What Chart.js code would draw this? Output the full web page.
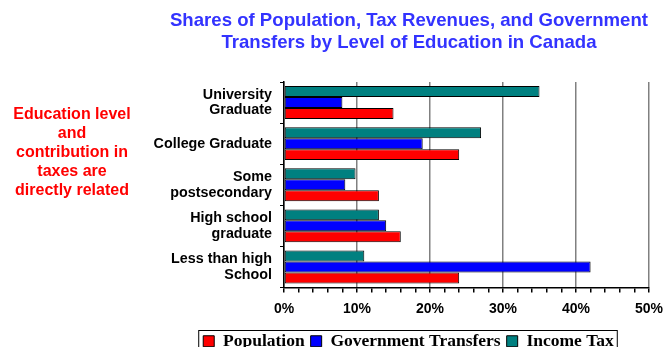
<!DOCTYPE html>
<html>
<head>
<meta charset="utf-8">
<script src="https://cdn.jsdelivr.net/npm/chart.js@4"></script>
<style>
    html, body { margin: 0; padding: 0; background: #fff; }
    #wrap { position: relative; width: 671px; height: 347px; overflow: hidden; }
    #title {
        position: absolute; left: 109px; top: 9px; width: 600px;
        text-align: center; color: #3333ff;
        font: bold 18.6px 'Liberation Sans', Arial, sans-serif; line-height: 22px;
    }
    #note {
        position: absolute; left: 0; top: 104px; width: 144px;
        text-align: center; color: #ff0000;
        font: bold 16px 'Liberation Sans', Arial, sans-serif; line-height: 19px;
    }
    canvas { position: absolute; left: 0; top: 0; }
</style>
</head>
<body>
<div id="wrap">
    <canvas id="eduChart" width="671" height="347"></canvas>
    <div id="title">Shares of Population, Tax Revenues, and Government<br>Transfers by Level of Education in Canada</div>
    <div id="note">Education level<br>and<br>contribution in<br>taxes are<br>directly related</div>
</div>
<script>
const categories = [
    ['University', 'Graduate'],
    'College Graduate',
    ['Some', 'postsecondary'],
    ['High school', 'graduate'],
    ['Less than high', 'School']
];
const incomeTax = [35, 27, 9.8, 13, 11];
const govTransfers = [8, 19, 8.4, 14, 42];
const population = [15, 24, 13, 16, 24];

const SANS = "'Liberation Sans', Arial, sans-serif";
const SERIF = "'Liberation Serif', 'Times New Roman', serif";

// move the legend under the plot and draw its frame
const LEGEND_BOX_PLUGIN = {
    id: 'legendBox',
    afterLayout(chart) {
        const lg = chart.legend;
        if (!lg) return;
        const dx = 83;
        const h = lg.bottom - lg.top;
        lg.left += dx;
        lg.right += dx;
        lg.top = 326.5;
        lg.bottom = lg.top + h;
    },
    afterDraw(chart) {
        const boxes = chart.legend && chart.legend.legendHitBoxes;
        if (!boxes || !boxes.length) return;
        const left = Math.min(...boxes.map(b => b.left)) - 5;
        const right = Math.max(...boxes.map(b => b.left + b.width)) + 3;
        const ctx = chart.ctx;
        ctx.save();
        ctx.strokeStyle = '#000';
        ctx.lineWidth = 1;
        ctx.strokeRect(left + 0.5, 330.5, right - left, 30);
        ctx.restore();
    }
};

new Chart(document.getElementById('eduChart'), {
    type: 'bar',
    plugins: [LEGEND_BOX_PLUGIN],
    data: {
        labels: categories,
        datasets: [
            { label: 'Income Tax', data: incomeTax, backgroundColor: '#008080' },
            { label: 'Government Transfers', data: govTransfers, backgroundColor: '#0000ff' },
            { label: 'Population', data: population, backgroundColor: '#ff0000' }
        ].map(d => Object.assign(d, {
            borderColor: '#000',
            borderWidth: 1,
            borderSkipped: false,
            categoryPercentage: 0.8,
            barPercentage: 1
        }))
    },
    options: {
        indexAxis: 'y',
        responsive: false,
        animation: false,
        layout: { padding: { top: 82, right: 20, left: 0, bottom: 0 } },
        plugins: {
            title: { display: false },
            tooltip: { enabled: false },
            legend: {
                position: 'bottom',
                reverse: true,
                labels: {
                    color: '#000',
                    boxWidth: 11,
                    boxHeight: 11,
                    padding: 6,
                    font: { family: SERIF, size: 17.5, weight: 'bold' }
                }
            }
        },
        scales: {
            x: {
                min: 0,
                max: 50,
                afterFit: s => { s.height = 26; },
                ticks: {
                    stepSize: 2,
                    autoSkip: false,
                    maxRotation: 0,
                    padding: 8,
                    color: '#000',
                    font: { family: SANS, size: 14, weight: 'bold' },
                    callback: v => (v % 10 === 0 ? v + '%' : '')
                },
                grid: {
                    color: c => (c.tick && c.tick.value % 10 === 0 ? '#808080' : 'rgba(0,0,0,0)'),
                    lineWidth: 1.5,
                    tickColor: '#000',
                    tickLength: 5
                },
                border: { color: '#000', width: 1.5 }
            },
            y: {
                afterFit: s => { s.width = 284; },
                ticks: {
                    padding: 8,
                    color: '#000',
                    font: { family: SANS, size: 14.3, weight: 'bold', lineHeight: 1.1 }
                },
                grid: {
                    drawOnChartArea: false,
                    color: '#000',
                    tickLength: 4
                },
                border: { color: '#000', width: 1.5 }
            }
        }
    }
});
</script>
</body>
</html>
